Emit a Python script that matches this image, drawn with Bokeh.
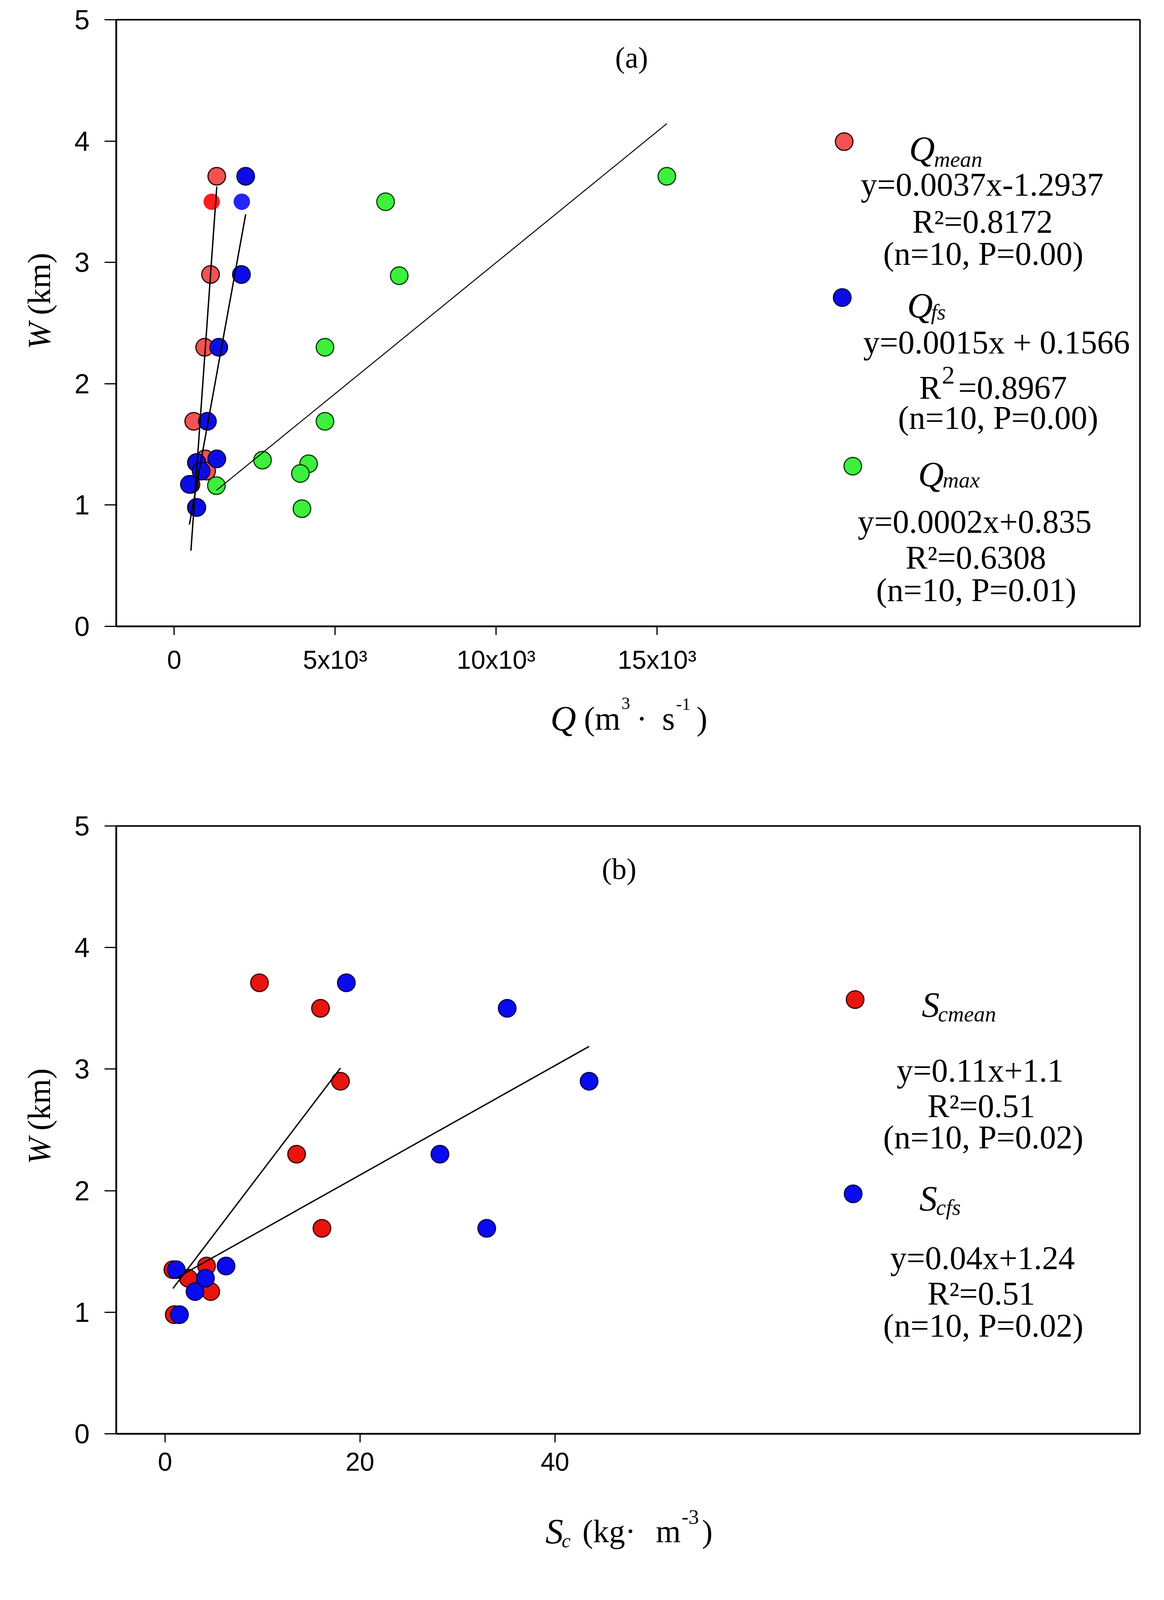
import math
from bokeh.plotting import figure
from bokeh.models import Label, FixedTicker, Range1d, ColumnDataSource
from bokeh.layouts import column, row
from bokeh.embed import file_html
from bokeh.resources import INLINE

# ---------------- data ----------------
W_km = [3.71, 3.50, 2.90, 2.30, 1.69, 1.38, 1.35, 1.28, 1.17, 0.98]
W_qmax = [3.71, 3.50, 2.89, 2.30, 1.69, 1.37, 1.34, 1.26, 1.16, 0.97]

Q_mean = [1323, 1165, 1129, 947, 607, 959, 690, 1007, 520, 690]
Q_fs = [2221, 2100, 2088, 1384, 1032, 1323, 704, 837, 473, 704]
Q_max = [15303, 6566, 6990, 4684, 4684, 2743, 4175, 3920, 1311, 3968]

Sc_mean = [9.69, 15.95, 18.0, 13.5, 16.1, 4.26, 0.81, 2.39, 4.69, 0.95]
Sc_fs = [18.6, 35.1, 43.5, 28.2, 33.0, 6.26, 1.15, 4.15, 3.08, 1.48]

# drawn regression lines (slope, intercept) as measured on the picture
fit_Qmean = (0.003737, -1.319)
fit_Qfs = (0.001463, 0.147)
fit_Qmax = (0.000216, 0.838)
fit_Scmean = (0.1055, 1.110)
fit_Scfs = (0.0450, 1.229)

# points drawn without outline (index in the series)
no_outline_Qmean = [1]
no_outline_Qfs = [1]

top_xticks = [0, 5000, 10000, 15000]
top_xlabels = ["0", "5x10³", "10x10³", "15x10³"]
bot_xticks = [0, 20, 40]
bot_xlabels = ["0", "20", "40"]
yticks = [0, 1, 2, 3, 4, 5]

# ---------------- geometry ----------------
# positions are measured on the reference page; vertical positions are
# compressed so the whole page fits in the photographed height.
PAGE = 8
K = 0.825
FS = 0.95
FIG_W = 2960
YT_W = 150           # width of the y-title strip
SERIF = "Liberation Serif"
SANS = "Liberation Sans"


def vy(y):
    return PAGE + (y - PAGE) * K


# vertical boundaries (reference page px): panel a, a-title, panel b, b-title
BOUNDS = [8, 2120, 2400, 4640, 4822]
PY = [round(vy(b)) for b in BOUNDS]

G_TOP = dict(L=305, R=2925, T=vy(69), B=vy(1951), x0=-1800, x1=30000, y0=0, y1=5)
G_BOT = dict(L=305, R=2925, T=vy(2570), B=vy(4457), x0=-5, x1=100, y0=0, y1=5)


def to_data(g, px, py):
    x = g["x0"] + (px - g["L"]) / (g["R"] - g["L"]) * (g["x1"] - g["x0"])
    y = g["y0"] + (g["B"] - py) / (g["B"] - g["T"]) * (g["y1"] - g["y0"])
    return x, y


def make_main(g, top_px, bot_px, xticks, xlabels):
    fx = PAGE + YT_W
    p = figure(width=FIG_W - YT_W, height=bot_px - top_px, output_backend="svg",
               toolbar_location=None, title=None,
               x_range=Range1d(g["x0"], g["x1"]), y_range=Range1d(g["y0"], g["y1"]),
               min_border_left=round(g["L"] - fx),
               min_border_right=round(PAGE + FIG_W - g["R"]),
               min_border_top=round(g["T"] - top_px),
               min_border_bottom=round(bot_px - g["B"]))
    p.xgrid.visible = False
    p.ygrid.visible = False
    p.background_fill_color = "white"
    p.border_fill_color = "white"
    p.outline_line_color = "black"
    p.outline_line_width = 4
    p.outline_line_alpha = 1.0
    p.xaxis.ticker = FixedTicker(ticks=xticks)
    p.xaxis.major_label_overrides = {t: l for t, l in zip(xticks, xlabels)}
    p.yaxis.ticker = FixedTicker(ticks=yticks)
    for ax in (p.xaxis, p.yaxis):
        ax.axis_line_width = 4
        ax.axis_line_color = "black"
        ax.major_tick_line_width = 3
        ax.major_tick_line_color = "black"
        ax.major_tick_in = 0
        ax.minor_tick_line_color = None
        ax.major_label_text_font = SANS
        ax.major_label_text_color = "black"
    p.xaxis.major_tick_out = round(27 * K)
    p.yaxis.major_tick_out = 30
    p.xaxis.major_label_text_font_size = "66px"
    p.yaxis.major_label_text_font_size = "70px"
    p.xaxis.major_label_standoff = round(32 * K)
    p.yaxis.major_label_standoff = 38
    return p


def make_blank(width, top_px, bot_px, left_px):
    h = bot_px - top_px
    p = figure(width=width, height=h, output_backend="svg", toolbar_location=None, title=None,
               x_range=Range1d(left_px, left_px + width), y_range=Range1d(-bot_px, -top_px),
               x_axis_location=None, y_axis_location=None, min_border=0)
    p.xgrid.visible = False
    p.ygrid.visible = False
    p.outline_line_color = None
    p.background_fill_color = "white"
    p.border_fill_color = "white"
    return p


def _label(p, x, y, s, size, italic, align, baseline, angle, font):
    p.add_layout(Label(x=x, y=y, x_units="data", y_units="data", text=s, text_font=font,
                       text_font_size=f"{round(size * FS)}px",
                       text_font_style="italic" if italic else "normal",
                       text_align=align, text_baseline=baseline, angle=angle, text_color="black"))


def txt(p, g, px, ref_py, s, size, italic=False, align="left", baseline="alphabetic", angle=0.0, font=SERIF):
    x, y = to_data(g, px, vy(ref_py))
    _label(p, x, y, s, size, italic, align, baseline, angle, font)


def btxt(p, px, ref_py, s, size, italic=False, align="left", baseline="alphabetic", angle=0.0, font=SERIF):
    _label(p, px, -vy(ref_py), s, size, italic, align, baseline, angle, font)


def dot(p, g, px, ref_py, fill, line):
    x, y = to_data(g, px, vy(ref_py))
    p.scatter([x], [y], size=45, fill_color=fill, line_color=line, line_width=3)


def series(p, xs, ys, fill, line, bright=None, plain=()):
    fills = [bright if i in plain else fill for i in range(len(xs))]
    lines = ["rgba(0,0,0,0)" if i in plain else line for i in range(len(xs))]
    sizes = [42 if i in plain else 45 for i in range(len(xs))]
    src = ColumnDataSource(dict(x=xs, y=ys, f=fills, l=lines, s=sizes))
    p.scatter("x", "y", source=src, size="s", fill_color="f", line_color="l", line_width=3)


def fit_line(p, xs, fit, width=3):
    a, b = fit
    x0, x1 = min(xs), max(xs)
    p.line([x0, x1], [a * x0 + b, a * x1 + b], line_color="black", line_width=width)


RED_A, RED_A_L, RED_A_B = "#f25252", "#2a0606", "#ff1e1e"
BLUE, BLUE_L, BLUE_B = "#0c0ce6", "#000045", "#2424ff"
GREEN, GREEN_L = "#3cf03c", "#0a3a0a"
RED_B, RED_B_L = "#e8140f", "#3a0000"
BLUE2, BLUE2_L = "#0a0af0", "#000050"

# ---------------- panel (a) ----------------
pa = make_main(G_TOP, PY[0], PY[1], top_xticks, top_xlabels)
series(pa, Q_mean, W_km, RED_A, RED_A_L, RED_A_B, no_outline_Qmean)
series(pa, Q_fs, W_km, BLUE, BLUE_L, BLUE_B, no_outline_Qfs)
series(pa, Q_max, W_qmax, GREEN, GREEN_L)
fit_line(pa, Q_mean, fit_Qmean, 3.5)
fit_line(pa, Q_fs, fit_Qfs, 3.5)
fit_line(pa, Q_max, fit_Qmax, 2.5)

g = G_TOP
txt(pa, g, 1624, 186, "(a)", 80, align="center")
dot(pa, g, 2168, 447, RED_A, RED_A_L)
txt(pa, g, 2400, 470, "Q", 96, italic=True, align="right")
txt(pa, g, 2398, 502, "mean", 60, italic=True)
txt(pa, g, 2521, 581, "y=0.0037x-1.2937", 88, align="center")
txt(pa, g, 2522, 695, "R²=0.8172", 88, align="center")
txt(pa, g, 2524, 795, "(n=10, P=0.00)", 88, align="center")
dot(pa, g, 2163, 931, BLUE, BLUE_L)
txt(pa, g, 2395, 956, "Q", 96, italic=True, align="right")
txt(pa, g, 2390, 975, "fs", 60, italic=True)
txt(pa, g, 2558, 1070, "y=0.0015x + 0.1566", 88, align="center")
txt(pa, g, 2416, 1211, "R", 88, align="right")
txt(pa, g, 2418, 1172, "2", 70)
txt(pa, g, 2460, 1211, "=0.8967", 88)
txt(pa, g, 2562, 1304, "(n=10, P=0.00)", 88, align="center")
dot(pa, g, 2190, 1454, GREEN, GREEN_L)
txt(pa, g, 2423, 1480, "Q", 96, italic=True, align="right")
txt(pa, g, 2420, 1497, "max", 60, italic=True)
txt(pa, g, 2502, 1626, "y=0.0002x+0.835", 88, align="center")
txt(pa, g, 2505, 1738, "R²=0.6308", 88, align="center")
txt(pa, g, 2506, 1838, "(n=10, P=0.01)", 88, align="center")

ya = make_blank(YT_W, PY[0], PY[1], PAGE)
btxt(ya, 108, 1062, "W", 86, italic=True, align="right", angle=math.pi / 2)
btxt(ya, 108, 1036, "(km)", 86, align="left", angle=math.pi / 2)

xa = make_blank(FIG_W, PY[1], PY[2], PAGE)
btxt(xa, 1482, 2237, "Q", 96, italic=True, align="right")
btxt(xa, 1502, 2237, "(m", 88)
btxt(xa, 1598, 2190, "3", 46)
btxt(xa, 1636, 2237, "·", 88)
btxt(xa, 1702, 2237, "s", 88)
btxt(xa, 1738, 2192, "-1", 46)
btxt(xa, 1790, 2237, ")", 88)

# ---------------- panel (b) ----------------
pb = make_main(G_BOT, PY[2], PY[3], bot_xticks, bot_xlabels)
series(pb, Sc_mean, W_km, RED_B, RED_B_L)
series(pb, Sc_fs, W_km, BLUE2, BLUE2_L)
fit_line(pb, Sc_mean, fit_Scmean, 3.5)
fit_line(pb, Sc_fs, fit_Scfs, 3.5)

g = G_BOT
txt(pb, g, 1592, 2703, "(b)", 80, align="center")
dot(pb, g, 2196, 3109, RED_B, RED_B_L)
txt(pb, g, 2412, 3126, "S", 96, italic=True, align="right")
txt(pb, g, 2408, 3153, "cmean", 60, italic=True)
txt(pb, g, 2516, 3329, "y=0.11x+1.1", 88, align="center")
txt(pb, g, 2519, 3440, "R²=0.51", 88, align="center")
txt(pb, g, 2524, 3536, "(n=10, P=0.02)", 88, align="center")
dot(pb, g, 2191, 3712, BLUE2, BLUE2_L)
txt(pb, g, 2406, 3727, "S", 96, italic=True, align="right")
txt(pb, g, 2403, 3754, "cfs", 60, italic=True)
txt(pb, g, 2522, 3911, "y=0.04x+1.24", 88, align="center")
txt(pb, g, 2519, 4022, "R²=0.51", 88, align="center")
txt(pb, g, 2524, 4121, "(n=10, P=0.02)", 88, align="center")

yb = make_blank(YT_W, PY[2], PY[3], PAGE)
btxt(yb, 108, 3548, "W", 86, italic=True, align="right", angle=math.pi / 2)
btxt(yb, 108, 3522, "(km)", 86, align="left", angle=math.pi / 2)

xb = make_blank(FIG_W, PY[3], PY[4], PAGE)
btxt(xb, 1449, 4760, "S", 96, italic=True, align="right")
btxt(xb, 1445, 4788, "c", 54, italic=True)
btxt(xb, 1498, 4760, "(kg·", 86)
btxt(xb, 1686, 4760, "m", 86)
btxt(xb, 1752, 4715, "-3", 56)
btxt(xb, 1804, 4760, ")", 86)

layout = column(row(ya, pa, spacing=0), xa, row(yb, pb, spacing=0), xb, spacing=0)
open("out.html", "w").write(file_html(layout, INLINE))
